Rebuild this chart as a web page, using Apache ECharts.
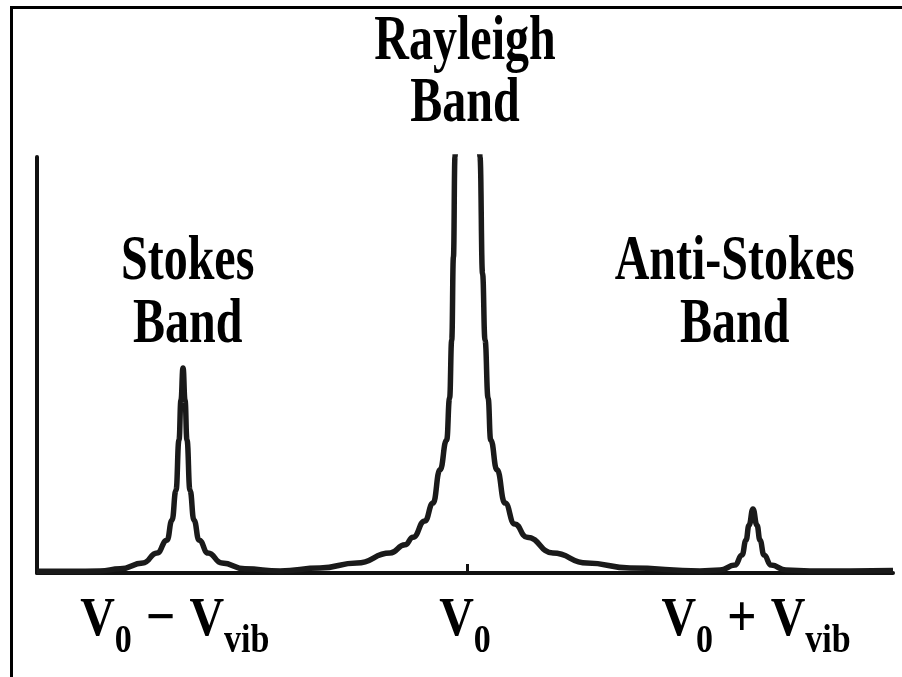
<!DOCTYPE html>
<html>
<head>
<meta charset="utf-8">
<script src="https://cdn.jsdelivr.net/npm/echarts@6/dist/echarts.min.js"></script>
<style>
html, body { margin: 0; padding: 0; background: #fff; }
#frame { position: absolute; left: 10px; top: 6px; width: 892px; height: 671px; border-left: 3px solid #000; border-top: 3px solid #000; box-sizing: border-box; }
#chart-container { position: absolute; left: 0; top: 0; width: 902px; height: 677px; }
</style>
</head>
<body>
<div id="frame"></div>
<div id="chart-container"></div>
<script>
// 谱线数据 (x: 0-100 频率, y: 0-100 强度), 读自原图
var baseStart = [[0, 0.4], [4, 0.4]];
var stokesBand = [
    [7.36, 0.5], [9.7, 1.0], [12.38, 2.4], [14.02, 4.8], [15.19, 7.9], [15.77, 12.7],
    [16.24, 19.9], [16.59, 32.0], [16.82, 41.6], [17.06, 49.3], [17.29, 41.6],
    [17.52, 32.0], [17.87, 19.9], [18.34, 12.7], [18.93, 7.9], [19.98, 4.8],
    [21.61, 2.4], [24.3, 1.0], [28.39, 0.5]
];
var rayleighBand = [
    [33.06, 1.2], [37.38, 2.4], [41.24, 4.8], [43.0, 6.8], [43.93, 8.6], [45.3, 12.5],
    [46.26, 16.8], [47.08, 24.8], [47.86, 32.0], [48.2, 42], [48.45, 56.0], [48.65, 76],
    [48.83, 100], [49.1, 150], [50.3, 300], [51.5, 150], [51.75, 100], [52.05, 72],
    [52.34, 56.0], [52.7, 42], [53.0, 32.0], [53.74, 24.8], [54.67, 16.8], [55.8, 11.8],
    [57.24, 8.6], [60.28, 4.8], [64.25, 2.4], [69.28, 1.2]
];
var antiStokesBand = [
    [77.45, 0.5], [79.79, 0.7], [81.54, 1.9], [82.36, 4.3], [82.83, 7.9], [83.18, 11.5],
    [83.64, 15.4], [84.11, 11.5], [84.46, 7.9], [84.93, 4.3], [85.75, 1.9], [87.5, 0.7],
    [90.3, 0.5]
];
var baseEnd = [[95, 0.5], [100, 0.6]];

// x 轴刻度与标签
var xTickPos = [50.3];
var xLabelPos = [[16.1, -1.7], [50.0, -1.7], [84.0, -1.7]];
var xLabels = [
    '{v|V}{s|0}{op|−}{v|V}{s|vib}',
    '{v|V}{s|0}',
    '{v|V}{s|0}{op|+}{v|V}{s|vib}'
];

// 谱带名称 (位置用数据坐标)
var bandNames = ['Stokes\nBand', 'Rayleigh\nBand', 'Anti-Stokes\nBand'];
var bandNamePos = [[17.6, 82], [50.0, 135], [81.5, 82]];

var spectrum = [].concat(baseStart, stokesBand, rayleighBand, antiStokesBand, baseEnd);

var container = document.getElementById('chart-container');
var myChart = echarts.init(container);

var serifFont = '"Liberation Serif", "Times New Roman", serif';

myChart.setOption({
    animation: false,
    grid: { left: 37, right: 9, top: 157, bottom: 104 },
    xAxis: {
        type: 'value',
        min: 0,
        max: 100,
        splitLine: { show: false },
        axisLine: { lineStyle: { color: '#111', width: 4 } },
        axisTick: {
            show: true,
            customValues: xTickPos,
            inside: true,
            length: 9,
            lineStyle: { color: '#111', width: 3 }
        },
        axisLabel: { show: false }
    },
    yAxis: {
        type: 'value',
        min: 0,
        max: 100,
        splitLine: { show: false },
        axisTick: { show: false },
        axisLabel: { show: false },
        axisLine: { show: true, lineStyle: { color: '#111', width: 4 } }
    },
    series: [
        {
            name: '光谱',
            type: 'line',
            data: spectrum,
            showSymbol: false,
            smooth: 0.5,
            smoothMonotone: 'x',
            lineStyle: { color: '#1a1a1a', width: 5.5 }
        }
    ]
});

// 文字: 用坐标系换算位置, 字形纵向拉伸
var graphics = bandNames.map(function (name, i) {
    var p = myChart.convertToPixel({ gridIndex: 0 }, bandNamePos[i]);
    return {
        type: 'text',
        x: p[0],
        y: p[1],
        scaleY: 1.3,
        style: {
            text: name,
            font: 'bold 48px ' + serifFont,
            fill: '#000',
            align: 'center',
            verticalAlign: 'top',
            lineHeight: 48
        }
    };
});

xLabels.forEach(function (txt, i) {
    var p = myChart.convertToPixel({ gridIndex: 0 }, xLabelPos[i]);
    graphics.push({
        type: 'text',
        x: p[0],
        y: p[1],
        scaleY: 1.15,
        style: {
            text: txt,
            align: 'center',
            verticalAlign: 'top',
            fill: '#000',
            rich: {
                v: { fontSize: 48, fontWeight: 'bold', fontFamily: serifFont, lineHeight: 71 },
                op: { fontSize: 52, fontWeight: 'bold', fontFamily: serifFont, lineHeight: 71, padding: [0, 14] },
                s: { fontSize: 34, fontWeight: 'bold', fontFamily: serifFont, lineHeight: 34, verticalAlign: 'bottom' }
            }
        }
    });
});

myChart.setOption({ graphic: graphics });
</script>
</body>
</html>
